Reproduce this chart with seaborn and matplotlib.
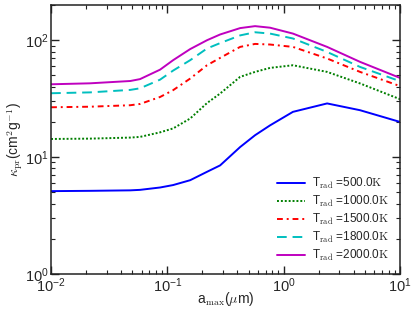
import numpy as np
import pandas as pd
import matplotlib
matplotlib.use("Agg")
import matplotlib.pyplot as plt
import seaborn as sns

# grain size a_max (micron)
a_max = [0.01, 0.0216, 0.048, 0.0582, 0.0865, 0.112, 0.157, 0.219, 0.284,
         0.422, 0.567, 0.763, 1.20, 2.36, 4.53, 10.0]

# Planck mean opacity kappa_pr (cm^2/g) per radiation temperature
kappa_500 = [5.12, 5.15, 5.2, 5.25, 5.5, 5.77, 6.35, 7.49, 8.5,
             12.2, 15.4, 18.7, 24.4, 28.8, 25.2, 20.0]
kappa_1000 = [14.3, 14.4, 14.7, 14.9, 16.3, 17.6, 21.4, 29.0, 35.0,
              48.6, 53.6, 58.0, 61.1, 53.6, 42.7, 31.3]
kappa_1500 = [26.7, 27.0, 27.8, 28.5, 32.7, 37.4, 47.0, 61.1, 70.6,
              87.7, 93.0, 91.9, 87.7, 69.8, 53.6, 40.5]
kappa_1800 = [35.2, 35.8, 37.6, 38.8, 46.0, 55.0, 67.5, 85.0, 94.5,
              110.0, 117.0, 114.0, 103.5, 79.4, 59.1, 44.6]
kappa_2000 = [42.0, 42.8, 44.8, 46.5, 56.0, 67.5, 84.0, 100.0, 112.0,
              127.0, 132.0, 128.0, 114.0, 87.7, 65.3, 47.6]

temps = [500, 1000, 1500, 1800, 2000]
series = [kappa_500, kappa_1000, kappa_1500, kappa_1800, kappa_2000]
colors = ["#0000ff", "#007f00", "#ff0000", "#00bfbf", "#bf00bf"]
styles = ["-", (0, (1, 1)), (0, (3, 2, 1, 2)), (0, (5, 3)), "-"]

sns.set_style("ticks")
plt.rcParams["font.family"] = ["Liberation Sans", "DejaVu Sans"]
plt.rcParams["mathtext.fontset"] = "cm"

rows = []
for t, vals in zip(temps, series):
    for a, k in zip(a_max, vals):
        rows.append({"a": a, "kappa": k, "T": t})
df = pd.DataFrame(rows)

fig = plt.figure(figsize=(4.15, 3.15), dpi=100)
ax = fig.add_axes([0.123, 0.130, 0.841, 0.854])

for t, c, ls in zip(temps, colors, styles):
    sub = df[df["T"] == t]
    sns.lineplot(data=sub, x="a", y="kappa", ax=ax, color=c, linewidth=1.4,
                 label=r"T$_{\rm rad}$ =" + f"{t:.1f}" + r"$\rm K$")
    ax.lines[-1].set_linestyle(ls)

ax.set_xscale("log")
ax.set_yscale("log")
ax.set_xlim(0.01, 10)
ax.set_ylim(1, 200)
ax.set_xlabel(r"a$_{\rm max}$($\mu$m)", fontsize=10, labelpad=-4)
ax.set_ylabel(r"$\kappa_{\rm pr}$(cm$^2$g$^{-1}$)", fontsize=10, labelpad=0)

ax.tick_params(which="both", direction="in", top=True, right=True, labelsize=10.5,
               pad=2, color="#222222")
ax.tick_params(which="major", length=6, width=1)
ax.tick_params(which="minor", length=3, width=0.8)
for s in ax.spines.values():
    s.set_linewidth(1.1)
    s.set_color("#222222")

leg = ax.legend(loc="lower right", frameon=False, fontsize=8.5, handlelength=2.3,
                handletextpad=0.6, labelspacing=0.25, borderaxespad=0.55)

fig.savefig("out.png", dpi=100)
